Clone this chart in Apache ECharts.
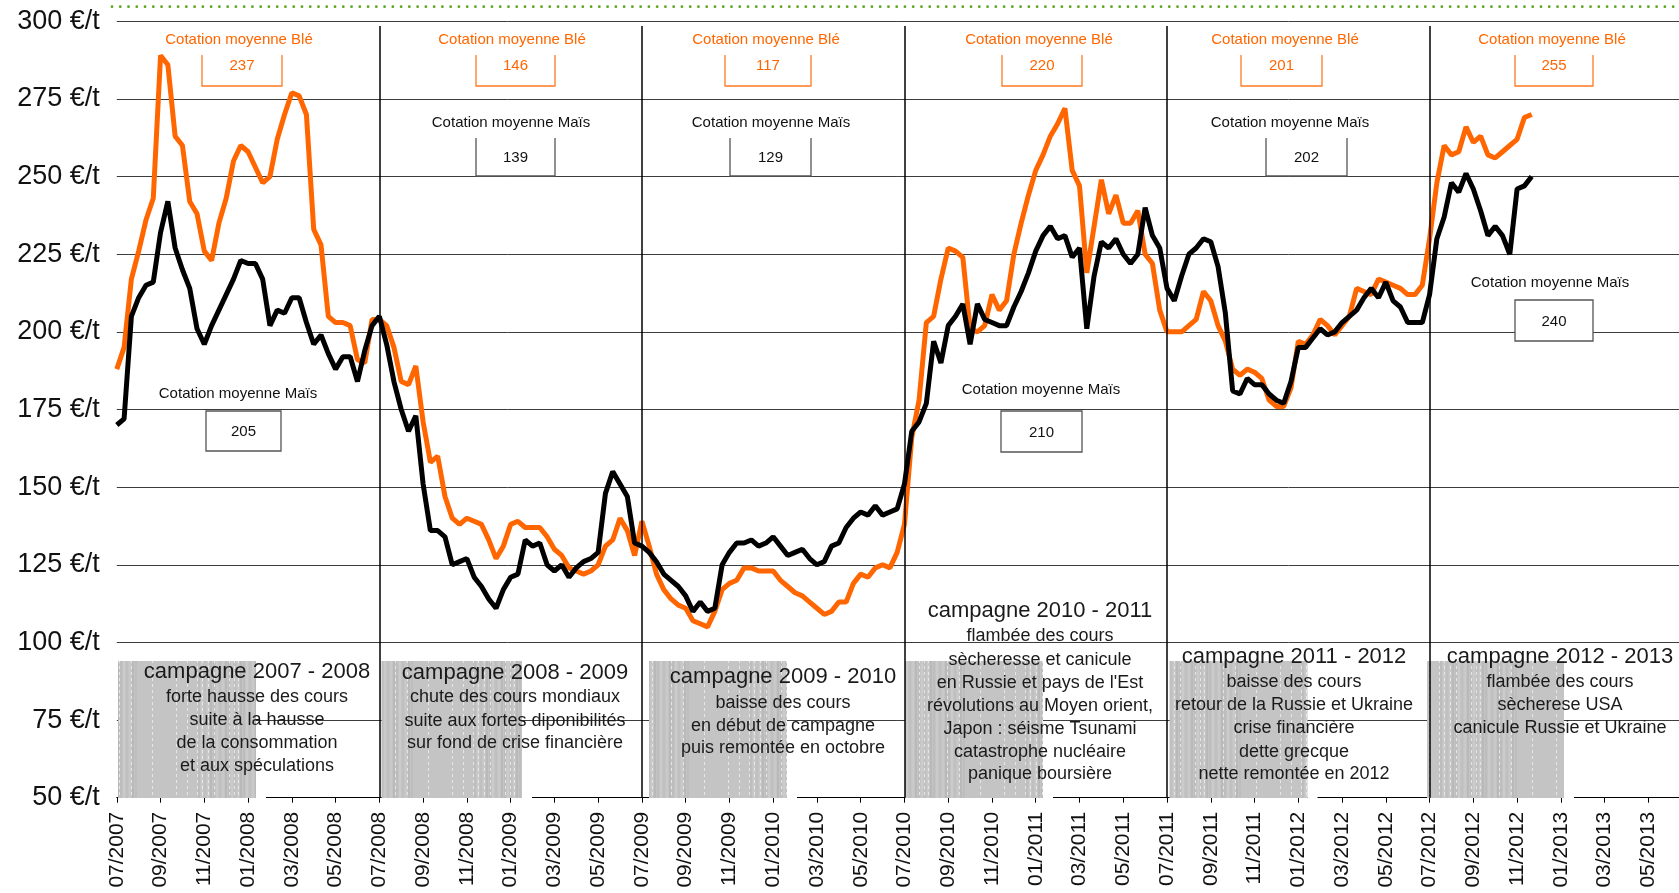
<!DOCTYPE html>
<html>
<head>
<meta charset="utf-8">
<script src="https://cdn.jsdelivr.net/npm/echarts@6/dist/echarts.min.js"></script>
<style>
html, body { margin: 0; padding: 0; background: #fff; }
#chart { width: 1679px; height: 893px; }
</style>
</head>
<body>
<div id="chart"></div>
<script>
'use strict';

// cotations relevées tous les tiers de mois depuis juillet 2007 (€/t)
var ble = [
	188, 195, 217, 226, 236, 243, 289, 286, 263, 260,
	242, 238, 226, 223, 235, 243, 255, 260, 258, 253,
	248, 250, 262, 270, 277, 276, 270, 233, 228, 205,
	203, 203, 202, 191, 190, 204, 204, 202, 195, 184,
	183, 189, 171, 158, 160, 147, 140, 138, 140, 139,
	138, 133, 127, 131, 138, 139, 137, 137, 137, 134,
	130, 128, 124, 123, 122, 123, 125, 131, 133, 140,
	136, 128, 139, 131, 122, 117, 114, 112, 111, 107,
	106, 105, 110, 117, 119, 120, 124, 124, 123, 123,
	123, 120, 118, 116, 115, 113, 111, 109, 110, 113,
	113, 119, 122, 121, 124, 125, 124, 129, 138, 166,
	178, 203, 205, 217, 227, 226, 224, 201, 200, 202,
	212, 207, 210, 225, 235, 244, 252, 257, 263, 267,
	272, 252, 247, 219, 234, 249, 238, 244, 235, 235,
	239, 225, 222, 207, 200, 200, 200, 202, 204, 213,
	210, 202, 197, 188, 186, 188, 187, 185, 178, 176,
	176, 182, 197, 196, 199, 204, 202, 199, 202, 205,
	214, 213, 212, 217, 216, 215, 214, 212, 212, 215,
	230, 248, 260, 257, 258, 266, 261, 263, 257, 256,
	258, 260, 262, 269, 270
];
var mais = [
	170, 172, 205, 211, 215, 216, 232, 242, 227, 220,
	214, 201, 196, 202, 207, 212, 217, 223, 222, 222,
	217, 202, 207, 206, 211, 211, 203, 196, 199, 193,
	188, 192, 192, 184, 194, 202, 205, 196, 184, 175,
	168, 173, 151, 136, 136, 134, 125, 126, 127, 121,
	118, 114, 111, 117, 121, 122, 133, 131, 132, 125,
	123, 125, 121, 124, 126, 127, 129, 148, 155, 151,
	147, 132, 131, 129, 126, 122, 120, 118, 115, 110,
	113, 110, 111, 125, 129, 132, 132, 133, 131, 132,
	134, 131, 128, 129, 130, 127, 125, 126, 131, 132,
	137, 140, 142, 141, 144, 141, 142, 143, 151, 168,
	171, 177, 197, 190, 202, 205, 209, 196, 209, 204,
	203, 202, 202, 208, 213, 219, 226, 231, 234, 230,
	231, 224, 227, 201, 218, 229, 227, 230, 225, 222,
	225, 240, 231, 227, 214, 210, 218, 225, 227, 230,
	229, 221, 206, 181, 180, 185, 183, 183, 180, 178,
	177, 184, 195, 195, 198, 201, 199, 200, 203, 205,
	207, 211, 214, 211, 216, 210, 208, 203, 203, 203,
	212, 230, 237, 248, 245, 251, 246, 239, 231, 234,
	231, 225, 246, 247, 250
];

// début de chaque campagne, en mois depuis 07/2007
var campagnes = [12, 24, 36, 48, 60];

var moyBle = ['237', '146', '117', '220', '201', '255'];
var moyMais = ['205', '139', '129', '210', '202', '240'];

var titres = [
	'campagne 2007 - 2008', 'campagne 2008 - 2009', 'campagne 2009 - 2010',
	'campagne 2010 - 2011', 'campagne 2011 - 2012', 'campagne 2012 - 2013'
];
var commentaires = [
	['forte hausse des cours', 'suite à la hausse', 'de la consommation', 'et aux spéculations'],
	['chute des cours mondiaux', 'suite aux fortes diponibilités', 'sur fond de crise financière'],
	['baisse des cours', 'en début de campagne', 'puis remontée en octobre'],
	['flambée des cours', 'sècheresse et canicule', 'en Russie et pays de l\'Est', 'révolutions au Moyen orient,', 'Japon : séisme Tsunami', 'catastrophe nucléaire', 'panique boursière'],
	['baisse des cours', 'retour de la Russie et Ukraine', 'crise financière', 'dette grecque', 'nette remontée en 2012'],
	['flambée des cours', 'sècherese USA', 'canicule Russie et Ukraine']
];

var FONT = 'Liberation Sans, Arial, sans-serif';
var ORANGE = '#FF6600';

// emplacement des annotations (pixels)
var posBle = [[239, 202, 282], [512, 476, 555], [766, 725, 811], [1039, 1002, 1082], [1285, 1241, 1322], [1552, 1515, 1593]];
var posMais = [
	{ tx: 238, ty: 394, l: 206, r: 281, t: 411, b: 451, ferme: true },
	{ tx: 511, ty: 123, l: 476, r: 555, t: 138, b: 176, ferme: false },
	{ tx: 771, ty: 123, l: 730, r: 811, t: 138, b: 176, ferme: false },
	{ tx: 1041, ty: 390, l: 1001, r: 1082, t: 411, b: 452, ferme: true },
	{ tx: 1290, ty: 123, l: 1266, r: 1347, t: 138, b: 176, ferme: false },
	{ tx: 1550, ty: 283, l: 1515, r: 1593, t: 300, b: 341, ferme: true }
];
var posCampagne = [
	{ box: [118, 256], cx: 257, ty: 672, ly: [697, 720.5, 743.3, 766] },
	{ box: [381.5, 522], cx: 515, ty: 672.5, ly: [697, 720.6, 743] },
	{ box: [649, 787], cx: 783, ty: 676.7, ly: [703.3, 725.7, 748] },
	{ box: [905, 1043], cx: 1040, ty: 611.4, ly: [636.5, 660, 682.7, 706, 729.3, 751.7, 774] },
	{ box: [1169.5, 1307.5], cx: 1294, ty: 656.7, ly: [681.7, 705, 727.7, 751.7, 774] },
	{ box: [1427, 1564], cx: 1560, ty: 656.7, ly: [681.7, 705, 727.7] }
];

function moisLabel(v) {
	if (v % 2 !== 0 || v > 70) {
		return '';
	}
	var mm = (6 + v) % 12 + 1;
	var aa = 2007 + Math.floor((6 + v) / 12);
	return (mm < 10 ? '0' + mm : '' + mm) + '/' + aa;
}

// texture grise rayée des cadres de commentaires
function motifGris() {
	var c = document.createElement('canvas');
	c.width = 138;
	c.height = 6;
	var ctx = c.getContext('2d');
	ctx.fillStyle = '#c4c4c4';
	ctx.fillRect(0, 0, 138, 6);
	var teintes = ['#bdbdbd', '#cbcbcb', '#c0c0c0', '#c9c9c9', '#b9b9b9'];
	for (var x = 60; x < 138; x += 3) {
		ctx.fillStyle = teintes[(x * 7) % 5];
		ctx.fillRect(x, 0, 2, 6);
	}
	ctx.fillStyle = '#e6e6e6';
	[14, 38, 49, 59, 64, 70, 76, 91, 96, 100, 119, 131].forEach(function (x) {
		ctx.fillRect(x, 0, 1, 3);
	});
	return c;
}

var chart = echarts.init(document.getElementById('chart'));

var graphics = [];

// ligne pointillée verte en haut
graphics.push({
	type: 'line',
	shape: { x1: 112, y1: 6.7, x2: 1679, y2: 6.7 },
	style: { stroke: '#5BA71F', lineWidth: 2.8, lineDash: [0.01, 8.25], lineCap: 'round' },
	silent: true
});

var motif = motifGris();
for (var i = 0; i < posCampagne.length; i++) {
	var p = posCampagne[i];
	graphics.push({
		type: 'rect',
		z: 1,
		shape: { x: p.box[0], y: 661, width: p.box[1] - p.box[0], height: 137 },
		style: { fill: { image: motif, repeat: 'repeat' } },
		silent: true
	});
	graphics.push({
		type: 'rect',
		z: 1,
		shape: { x: p.box[1], y: 796, width: 10, height: 3 },
		style: { fill: '#fff' },
		silent: true
	});
	graphics.push({
		type: 'text',
		z: 5,
		style: { text: titres[i], x: p.cx, y: p.ty, align: 'center', verticalAlign: 'middle', font: '22px ' + FONT, fill: '#1a1a1a' },
		silent: true
	});
	for (var j = 0; j < commentaires[i].length; j++) {
		graphics.push({
			type: 'text',
			z: 5,
			style: { text: commentaires[i][j], x: p.cx, y: p.ly[j], align: 'center', verticalAlign: 'middle', font: '18px ' + FONT, fill: '#1a1a1a' },
			silent: true
		});
	}
}

// cotations moyennes blé
for (var i = 0; i < posBle.length; i++) {
	var b = posBle[i];
	graphics.push({
		type: 'text',
		z: 5,
		style: { text: 'Cotation moyenne Blé', x: b[0], y: 40, align: 'center', verticalAlign: 'middle', font: '15px ' + FONT, fill: ORANGE },
		silent: true
	});
	graphics.push({
		type: 'polyline',
		z: 5,
		shape: { points: [[b[1], 55], [b[1], 86], [b[2], 86], [b[2], 55]] },
		style: { stroke: '#FF7A22', lineWidth: 1.3, fill: null },
		silent: true
	});
	graphics.push({
		type: 'text',
		z: 5,
		style: { text: moyBle[i], x: (b[1] + b[2]) / 2, y: 66, align: 'center', verticalAlign: 'middle', font: '15px ' + FONT, fill: ORANGE },
		silent: true
	});
}

// cotations moyennes maïs
for (var i = 0; i < posMais.length; i++) {
	var m = posMais[i];
	graphics.push({
		type: 'text',
		z: 5,
		style: { text: 'Cotation moyenne Maïs', x: m.tx, y: m.ty, align: 'center', verticalAlign: 'middle', font: '15px ' + FONT, fill: '#111' },
		silent: true
	});
	if (m.ferme) {
		graphics.push({
			type: 'rect',
			z: 5,
			shape: { x: m.l, y: m.t, width: m.r - m.l, height: m.b - m.t },
			style: { stroke: '#555', lineWidth: 1.3, fill: '#fff' },
			silent: true
		});
	} else {
		graphics.push({
			type: 'polyline',
			z: 5,
			shape: { points: [[m.l, m.t], [m.l, m.b], [m.r, m.b], [m.r, m.t]] },
			style: { stroke: '#555', lineWidth: 1.3, fill: null },
			silent: true
		});
	}
	graphics.push({
		type: 'text',
		z: 6,
		style: { text: moyMais[i], x: (m.l + m.r) / 2, y: (m.t + m.b) / 2 + 1, align: 'center', verticalAlign: 'middle', font: '15px ' + FONT, fill: '#111' },
		silent: true
	});
}

var marks = [];
for (var i = 0; i < campagnes.length; i++) {
	marks.push([{ coord: [campagnes[i], 298.5] }, { coord: [campagnes[i], 50] }]);
}

chart.setOption({
	animation: false,
	backgroundColor: '#fff',
	textStyle: { fontFamily: FONT },
	grid: { left: 116.8, right: 0, top: 21.3, bottom: 95.3, containLabel: false },
	xAxis: {
		type: 'value',
		min: 0,
		max: 71.4,
		interval: 2,
		splitLine: { show: false },
		axisLine: { show: true, lineStyle: { color: '#000', width: 1 } },
		axisTick: { show: true, length: 5, lineStyle: { color: '#000' } },
		axisLabel: {
			rotate: 90,
			margin: 14,
			fontSize: 21,
			color: '#111',
			showMaxLabel: false,
			formatter: moisLabel
		}
	},
	yAxis: {
		type: 'value',
		min: 50,
		max: 300,
		interval: 25,
		axisLine: { show: false },
		axisTick: { show: false },
		splitLine: { show: true, lineStyle: { color: '#3c3c3c', width: 1 } },
		axisLabel: { margin: 17, fontSize: 27, color: '#111', formatter: '{value} €/t' }
	},
	series: [{
		name: 'Blé',
		type: 'line',
		showSymbol: false,
		data: ble.map(function (v, i) { return [i / 3, v]; }),
		lineStyle: { color: ORANGE, width: 5 },
		itemStyle: { color: ORANGE },
		z: 3,
		markLine: {
			silent: true,
			symbol: ['none', 'none'],
			label: { show: false },
			lineStyle: { color: '#000', width: 1.5, type: 'solid' },
			data: marks
		}
	}, {
		name: 'Maïs',
		type: 'line',
		showSymbol: false,
		data: mais.map(function (v, i) { return [i / 3, v]; }),
		lineStyle: { color: '#000', width: 5 },
		itemStyle: { color: '#000' },
		z: 4
	}],
	graphic: graphics
});
</script>
</body>
</html>
